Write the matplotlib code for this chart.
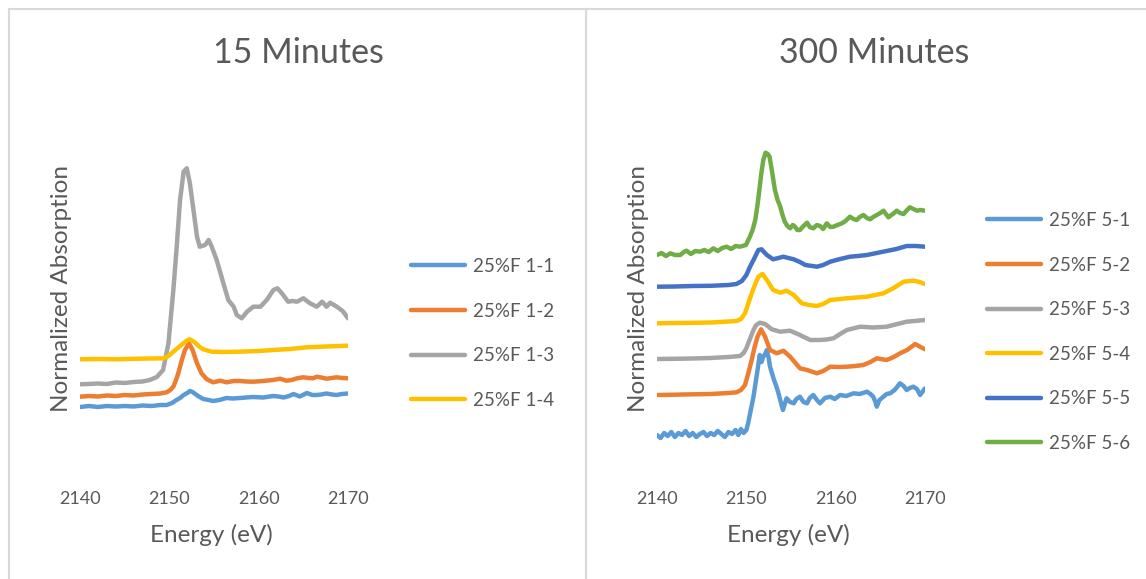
import matplotlib
matplotlib.use("Agg")
import matplotlib.pyplot as plt
from matplotlib.lines import Line2D

plt.rcParams['font.family'] = ['Lato', 'DejaVu Sans']

TEXT = '#595959'
GRID_BORDER = '#D9D9D9'

# ---- 15 minute scans (energy in eV, stacked normalized absorption) ----
e_1_1 = [2140, 2141, 2142, 2143, 2144, 2145, 2146, 2147, 2148, 2149, 2149.7, 2150.3, 2150.8, 2151.2,
         2151.6, 2152.0, 2152.3, 2152.6, 2152.9, 2153.3, 2153.8, 2154.4, 2154.9, 2155.6, 2156.4, 2157.1,
         2157.9, 2158.6, 2159.4, 2160.5, 2161.6, 2162.2, 2162.8, 2163.4, 2163.9, 2164.6, 2165.4, 2166.0,
         2166.5, 2167.0, 2167.6, 2168.2, 2168.7, 2169.3, 2170]
a_1_1 = [0.53, 0.54, 0.53, 0.54, 0.535, 0.54, 0.535, 0.545, 0.54, 0.55, 0.55, 0.57, 0.60, 0.62, 0.65,
         0.67, 0.69, 0.68, 0.66, 0.635, 0.61, 0.60, 0.59, 0.60, 0.62, 0.615, 0.62, 0.625, 0.63, 0.625,
         0.64, 0.635, 0.625, 0.64, 0.66, 0.635, 0.67, 0.65, 0.65, 0.655, 0.665, 0.655, 0.65, 0.66, 0.665]

e_1_2 = [2140, 2141, 2142, 2143, 2144, 2145, 2146, 2147, 2148, 2149, 2149.7, 2150.1, 2150.45, 2150.75,
         2151.0, 2151.4, 2151.75, 2152.2, 2152.6, 2153.1, 2153.6, 2154.2, 2154.9, 2155.7, 2156.4, 2157.2,
         2157.9, 2158.6, 2159.4, 2160.5, 2161.6, 2162.4, 2163.1, 2163.7, 2164.3, 2165.0, 2165.6, 2166.1,
         2166.5, 2167.0, 2167.6, 2168.2, 2168.7, 2169.4, 2170]
a_1_2 = [0.633, 0.64, 0.635, 0.645, 0.64, 0.65, 0.645, 0.655, 0.66, 0.665, 0.677, 0.70, 0.733, 0.80,
         0.867, 1.00, 1.10, 1.167, 1.10, 0.967, 0.867, 0.807, 0.777, 0.793, 0.777, 0.79, 0.79, 0.785,
         0.783, 0.79, 0.80, 0.813, 0.793, 0.80, 0.817, 0.827, 0.82, 0.817, 0.833, 0.825, 0.813, 0.82,
         0.827, 0.82, 0.817]

e_1_3 = [2140, 2141, 2142, 2143, 2144, 2145, 2146, 2147, 2147.8, 2148.6, 2149.3, 2149.9, 2150.45, 2150.8,
         2151.2, 2151.6, 2151.95, 2152.3, 2152.7, 2153.1, 2153.4, 2154.0, 2154.4, 2154.75, 2155.3, 2156.05,
         2156.6, 2157.2, 2157.55, 2158.1, 2158.7, 2159.4, 2160.2, 2160.9, 2161.65, 2162.1, 2162.6, 2163.3,
         2163.8, 2164.3, 2165.0, 2165.75, 2166.5, 2167.1, 2167.6, 2168.0, 2168.75, 2169.4, 2170]
a_1_3 = [0.757, 0.76, 0.765, 0.76, 0.775, 0.77, 0.78, 0.785, 0.80, 0.83, 0.90, 1.167, 1.70, 2.10, 2.60,
         2.883, 2.917, 2.767, 2.50, 2.233, 2.133, 2.15, 2.20, 2.133, 2.00, 1.767, 1.60, 1.533, 1.45, 1.417,
         1.483, 1.533, 1.533, 1.60, 1.70, 1.717, 1.667, 1.583, 1.59, 1.583, 1.617, 1.567, 1.533, 1.583,
         1.533, 1.573, 1.533, 1.49, 1.417]

e_1_4 = [2140, 2142, 2144, 2146, 2148, 2149.3, 2149.9, 2150.45, 2150.8, 2151.2, 2151.6, 2151.95, 2152.3,
         2152.9, 2153.4, 2153.8, 2154.75, 2156, 2157.9, 2160, 2161.65, 2163.5, 2165.4, 2167.5, 2170]
a_1_4 = [1.007, 1.01, 1.007, 1.012, 1.015, 1.017, 1.04, 1.083, 1.11, 1.14, 1.17, 1.193, 1.207, 1.173,
         1.13, 1.107, 1.083, 1.08, 1.083, 1.09, 1.10, 1.11, 1.127, 1.135, 1.143]

# ---- 300 minute scans ----
e_5_1 = [2140, 2140.4, 2140.8, 2141.2, 2141.6, 2142.0, 2142.4, 2142.8, 2143.2, 2143.6, 2144.0, 2144.4,
         2144.8, 2145.2, 2145.6, 2146.0, 2146.4, 2146.8, 2147.2, 2147.6, 2148.0, 2148.4, 2148.8, 2149.1,
         2149.4, 2149.7, 2150.0, 2150.2, 2150.5, 2150.8, 2151.0, 2151.2, 2151.5, 2151.7, 2151.9, 2152.1,
         2152.3, 2152.5, 2152.65, 2152.9, 2153.1, 2153.35, 2153.6, 2153.85, 2154.1, 2154.3, 2154.5, 2154.9,
         2155.3, 2155.6, 2156.0, 2156.4, 2156.8, 2157.1, 2157.5, 2157.9, 2158.25, 2158.8, 2159.4, 2159.9,
         2160.5, 2161.2, 2162.0, 2162.7, 2163.5, 2163.9, 2164.2, 2164.45, 2164.6, 2164.9, 2165.35, 2165.7,
         2166.1, 2166.6, 2167.2, 2167.6, 2167.95, 2168.3, 2168.7, 2169.1, 2169.45, 2169.7, 2170]
a_5_1 = [0.25, 0.22, 0.27, 0.24, 0.28, 0.23, 0.27, 0.25, 0.29, 0.24, 0.27, 0.23, 0.26, 0.28, 0.24, 0.27,
         0.25, 0.29, 0.26, 0.23, 0.28, 0.26, 0.30, 0.25, 0.31, 0.27, 0.30, 0.367, 0.50, 0.633, 0.75, 0.867,
         1.05, 0.98, 1.033, 1.06, 1.10, 1.02, 0.933, 0.86, 0.80, 0.74, 0.667, 0.58, 0.50, 0.56, 0.617,
         0.58, 0.567, 0.61, 0.633, 0.58, 0.567, 0.62, 0.65, 0.60, 0.567, 0.62, 0.633, 0.61, 0.65, 0.64,
         0.667, 0.66, 0.683, 0.66, 0.633, 0.58, 0.533, 0.60, 0.633, 0.66, 0.667, 0.70, 0.767, 0.74, 0.70,
         0.72, 0.733, 0.71, 0.65, 0.68, 0.717]

e_5_2 = [2140, 2142, 2144, 2146, 2148, 2148.9, 2149.4, 2149.85, 2150.2, 2150.6, 2150.9, 2151.25, 2151.65,
         2152.1, 2152.65, 2153.4, 2154.15, 2154.9, 2155.5, 2156.0, 2156.8, 2157.9, 2158.6, 2159.4, 2160.3,
         2161.25, 2162.2, 2163.1, 2163.9, 2164.6, 2165.7, 2166.5, 2167.2, 2168.0, 2168.9, 2169.5, 2170]
a_5_2 = [0.65, 0.653, 0.657, 0.66, 0.67, 0.677, 0.70, 0.75, 0.86, 1.00, 1.12, 1.233, 1.307, 1.233, 1.10,
         1.067, 1.093, 1.033, 0.97, 0.917, 0.90, 0.867, 0.89, 0.933, 0.93, 0.933, 0.94, 0.95, 0.98, 1.017,
         1.00, 1.03, 1.067, 1.10, 1.16, 1.13, 1.107]

e_5_3 = [2140, 2142, 2144, 2146, 2148, 2149.3, 2149.7, 2150.0, 2150.4, 2150.8, 2151.1, 2151.5, 2152.1,
         2152.85, 2153.8, 2154.9, 2156.0, 2157.15, 2158.25, 2159.0, 2159.75, 2160.5, 2161.25, 2162.75,
         2164.2, 2165.7, 2167.95, 2170]
a_5_3 = [1.01, 1.012, 1.015, 1.02, 1.03, 1.04, 1.07, 1.117, 1.21, 1.30, 1.35, 1.373, 1.36, 1.307, 1.283,
         1.293, 1.25, 1.20, 1.20, 1.205, 1.217, 1.26, 1.30, 1.333, 1.325, 1.333, 1.383, 1.40]

e_5_4 = [2140, 2142, 2144, 2146, 2148, 2148.9, 2149.4, 2149.85, 2150.2, 2150.6, 2151.0, 2151.35, 2151.8,
         2152.3, 2153.0, 2153.8, 2154.5, 2155.3, 2156.2, 2157.0, 2157.9, 2158.6, 2159.4, 2161.25, 2163.5,
         2165.35, 2166.5, 2167.6, 2168.7, 2169.4, 2170]
a_5_4 = [1.367, 1.37, 1.372, 1.375, 1.385, 1.39, 1.41, 1.467, 1.56, 1.667, 1.76, 1.833, 1.86, 1.80, 1.70,
         1.673, 1.693, 1.65, 1.567, 1.55, 1.54, 1.56, 1.60, 1.617, 1.633, 1.667, 1.72, 1.783, 1.793, 1.78,
         1.76]

e_5_5 = [2140, 2142, 2144, 2146, 2148, 2148.9, 2149.5, 2150.0, 2150.4, 2150.8, 2151.35, 2151.7, 2152.3,
         2153.0, 2153.6, 2154.15, 2154.7, 2155.3, 2156.0, 2156.6, 2157.9, 2158.6, 2159.4, 2160.5, 2161.6,
         2162.5, 2163.5, 2164.6, 2165.7, 2166.8, 2167.95, 2169, 2170]
a_5_5 = [1.733, 1.735, 1.74, 1.742, 1.75, 1.76, 1.79, 1.85, 1.93, 2.00, 2.10, 2.107, 2.05, 2.007, 2.02,
         2.033, 2.02, 2.007, 1.98, 1.95, 1.933, 1.95, 1.983, 2.01, 2.033, 2.04, 2.05, 2.07, 2.09, 2.11,
         2.14, 2.14, 2.133]

e_5_6 = [2140, 2140.5, 2141, 2141.5, 2142, 2142.6, 2143, 2143.3, 2143.8, 2144.3, 2144.8, 2145.3, 2145.8,
         2146.3, 2146.8, 2147.3, 2147.8, 2148.3, 2148.8, 2149.3, 2149.95, 2150.4, 2150.7, 2151.0, 2151.25,
         2151.5, 2151.7, 2151.9, 2152.15, 2152.4, 2152.6, 2152.85, 2153.2, 2153.5, 2153.8, 2154.05, 2154.3,
         2154.6, 2154.9, 2155.2, 2155.45, 2155.7, 2156.0, 2156.4, 2156.8, 2157.1, 2157.5, 2157.9, 2158.25,
         2158.6, 2159.0, 2159.4, 2159.75, 2160.2, 2160.7, 2161.1, 2161.6, 2162.0, 2162.35, 2162.7, 2163.1,
         2163.5, 2163.85, 2164.2, 2164.6, 2165.0, 2165.35, 2165.9, 2166.4, 2166.85, 2167.2, 2167.6, 2168.0,
         2168.3, 2168.7, 2169.1, 2169.5, 2170]
a_5_6 = [2.05, 2.07, 2.04, 2.067, 2.05, 2.05, 2.08, 2.093, 2.06, 2.09, 2.083, 2.10, 2.08, 2.117, 2.09,
         2.12, 2.133, 2.11, 2.14, 2.133, 2.15, 2.233, 2.30, 2.40, 2.55, 2.733, 2.88, 3.00, 3.073, 3.06,
         3.033, 2.90, 2.70, 2.60, 2.533, 2.45, 2.383, 2.34, 2.317, 2.35, 2.333, 2.30, 2.30, 2.34, 2.373,
         2.33, 2.317, 2.35, 2.34, 2.31, 2.367, 2.33, 2.333, 2.35, 2.367, 2.39, 2.433, 2.41, 2.40, 2.43,
         2.45, 2.42, 2.407, 2.43, 2.45, 2.47, 2.493, 2.427, 2.46, 2.493, 2.47, 2.46, 2.50, 2.527, 2.51,
         2.493, 2.50, 2.493]

labels_15 = ['25%F 1-1', '25%F 1-2', '25%F 1-3', '25%F 1-4']
labels_300 = ['25%F 5-1', '25%F 5-2', '25%F 5-3', '25%F 5-4', '25%F 5-5', '25%F 5-6']
colors = ['#5B9BD5', '#ED7D31', '#A5A5A5', '#FFC000', '#4472C4', '#70AD47']
x_ticks = [2140, 2150, 2160, 2170]

series_15 = [(e_1_1, a_1_1), (e_1_2, a_1_2), (e_1_3, a_1_3), (e_1_4, a_1_4)]
series_300 = [(e_5_1, a_5_1), (e_5_2, a_5_2), (e_5_3, a_5_3), (e_5_4, a_5_4),
              (e_5_5, a_5_5), (e_5_6, a_5_6)]

W, H = 1146, 579
fig = plt.figure(figsize=(W / 100, H / 100), dpi=100)
fig.patch.set_facecolor('white')

LW = 3.2


def px(x, y):
    return x / W, 1 - y / H


def panel(left_px, title, title_x, series, labels, legend_xy):
    ax = fig.add_axes([left_px / W, 1 - 470 / H, 268 / W, 340 / H])
    for (e, a), lab, c in zip(series, labels, colors):
        ax.plot(e, a, color=c, lw=LW, label=lab, solid_capstyle='round', solid_joinstyle='round')
    ax.set_xlim(2140, 2170)
    ax.set_ylim(-0.1, 3.3)
    ax.set_xticks(x_ticks)
    ax.set_yticks([])
    for s in ax.spines.values():
        s.set_visible(False)
    ax.tick_params(axis='x', length=0, pad=15, labelsize=13, labelcolor=TEXT)
    ax.set_xlabel('Energy (eV)', fontsize=17.5, color=TEXT)
    ax.xaxis.set_label_coords(0.49, -0.16)
    ax.set_ylabel('Normalized Absorption', fontsize=17.5, color=TEXT)
    ax.yaxis.set_label_coords(-0.028, 0.535)
    fig.text(*px(title_x, 53), title, fontsize=24.5, color=TEXT, ha='center', va='center')
    leg = ax.legend(loc='upper left', bbox_to_anchor=px(*legend_xy), bbox_transform=fig.transFigure,
                    frameon=False, fontsize=13.5, handlelength=2.9, handletextpad=0.4,
                    labelspacing=1.47, borderpad=0, borderaxespad=0)
    for t in leg.get_texts():
        t.set_color(TEXT)
    for ln in leg.get_lines():
        ln.set_linewidth(LW)
    return ax


panel(80, '15 Minutes', 298, series_15, labels_15, (411, 258))
panel(657, '300 Minutes', 874, series_300, labels_300, (987, 212))

# chart-area borders
for line in ([(9, 9), (9, H)], [(586, 586), (9, H)], [(9, W), (9, 9)]):
    xs, ys = line
    fig.add_artist(Line2D([x / W for x in xs], [1 - y / H for y in ys],
                          transform=fig.transFigure, color=GRID_BORDER, lw=1.5))

fig.savefig('out.png', dpi=100, facecolor='white')
